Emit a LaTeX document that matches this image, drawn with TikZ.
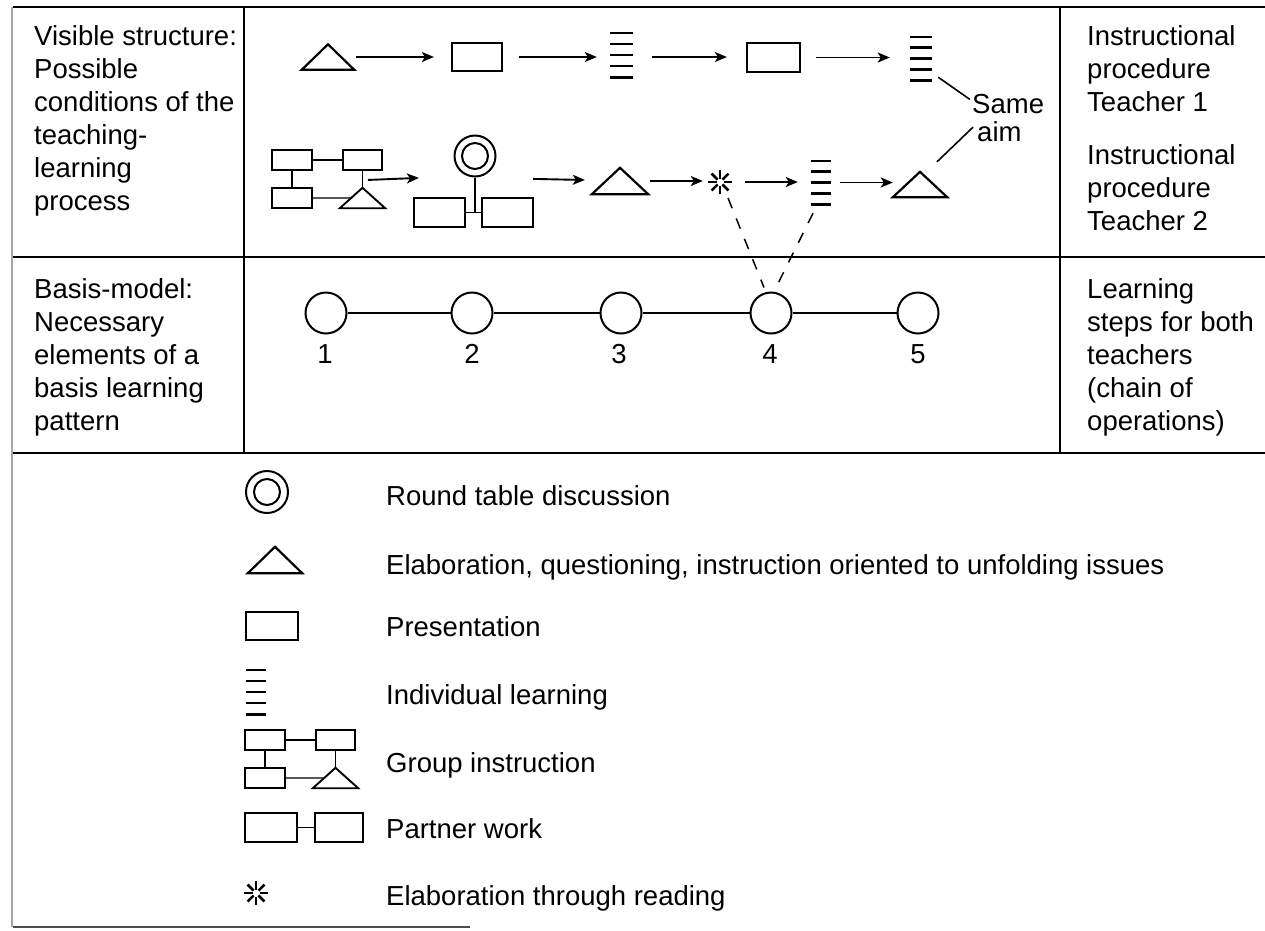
\documentclass[tikz,border=0pt]{standalone}
\usepackage{fontspec}
\setmainfont{Liberation Sans}
\usetikzlibrary{arrows.meta,calc}
\tikzset{
  lbl/.style={font=\fontsize{27.5}{33}\selectfont, inner sep=0pt, align=left, anchor=north west},
  txt/.style={font=\fontsize{27.5}{33}\selectfont, inner sep=0pt, anchor=base west},
  num/.style={font=\fontsize{27.5}{33}\selectfont, inner sep=0pt, anchor=base},
  shp/.style={draw, line width=2.2pt, inner sep=0pt},
  gshp/.style={draw, line width=1.9pt, inner sep=0pt},
  gap/.style={inner sep=0pt, draw=none},
  stepc/.style={draw, circle, line width=2pt, inner sep=0pt, minimum size=41pt},
  arr/.style={line width=1.9pt, -{Stealth[length=12pt,width=10pt,inset=3pt]}},
  thinl/.style={line width=1.3pt},
  rule/.style={line width=2pt},
  stk/.style={line width=2.6pt},
  dsh/.style={line width=1.5pt, dash pattern=on 11pt off 11pt},
}
\newcommand{\drawtri}[1]{\draw[line width=2.2pt, line join=miter] (#1.south west) -- (#1.north) -- (#1.south east) -- cycle;}
\newcommand{\drawstack}[1]{\foreach \f in {0,0.25,0.5,0.75,1} \draw[stk] ($(#1.north west)!\f!(#1.south west)$) -- ($(#1.north east)!\f!(#1.south east)$);}
\newcommand{\drawstar}[1]{\foreach \a in {0,45,...,315} \draw[line width=2.5pt] ($(#1)+(\a:3.5)$) -- ($(#1)+(\a:12)$);}
\begin{document}
\begin{tikzpicture}[x=1pt,y=-1pt]
\useasboundingbox (0,0) rectangle (1265,930);
\fill[white] (0,0) rectangle (1265,930);
% table rules
\draw[rule] (13,7) -- (1265,7);
\draw[rule] (13,257) -- (1265,257);
\draw[rule] (13,453) -- (1265,453);
\draw[rule] (244,7) -- (244,453);
\draw[line width=1.2pt] (1060,7) -- (1060,453);
\draw[line width=2.5pt, black!35] (12,7) -- (12,927);
\draw[line width=2pt, black!70] (13,927) -- (470,927);
% column texts
\node[lbl] (lab1) at (34,25) {Visible structure:\\Possible\\conditions of the\\teaching-\\learning\\process};
\node[lbl] (lab2) at (34,278) {Basis-model:\\Necessary\\elements of a\\basis learning\\pattern};
\node[lbl] (rl1) at (1087,25) {Instructional\\procedure\\Teacher 1\\[20pt]Instructional\\procedure\\Teacher 2};
\node[lbl] (rl2) at (1087,278) {Learning\\steps for both\\teachers\\(chain of\\operations)};
% ---- Teacher 1 row
\node[gap, minimum width=52pt, minimum height=25pt] (tA) at (328,57) {};
\drawtri{tA}
\node[shp, minimum width=50pt, minimum height=28pt] (rA) at (477,57) {};
\node[gap, minimum width=23pt, minimum height=44pt] (sA) at (621.5,55) {};
\drawstack{sA}
\node[shp, minimum width=53pt, minimum height=29pt] (rB) at (773.5,57.5) {};
\node[gap, minimum width=22pt, minimum height=43pt] (sB) at (921,58.5) {};
\drawstack{sB}
\draw[arr] ([xshift=2pt]tA.east) -- ([xshift=-17pt]tA.east -| rA.west);
\draw[arr] ([xshift=16pt]rA.east) -- ([xshift=-13pt]rA.east -| sA.west);
\draw[arr] ([xshift=19pt]sA.east |- rA.east) -- ([xshift=-19pt]rA.east -| rB.west);
\draw[arr] ([xshift=15pt]rB.east) -- ([xshift=-20pt]rB.east -| sB.west);
% Same aim
\node[txt] (same) at (972,113) {Same};
\node[txt] (aim) at (977,141) {aim};
% ---- Teacher 2 row: group instruction
\node[gshp, minimum width=40pt, minimum height=20pt] (gTL) at (292,160) {};
\node[gshp, minimum width=39pt, minimum height=20pt] (gTR) at (362.5,160) {};
\node[gshp, minimum width=40pt, minimum height=20pt] (gBL) at (292,198) {};
\node[gap, minimum width=45pt, minimum height=20pt] (gT) at (362.5,198) {};
\draw[line width=1.9pt] (gT.south west) -- (gT.north) -- (gT.south east) -- cycle;
\draw[thinl] (gTL) -- (gTR);
\draw[thinl] (gTL) -- (gBL);
\draw[thinl] (gTR.south) -- (gT.north);
\draw[thinl] (gBL.east) -- ($(gT.north)!0.5!(gT.south west)$);
% round table + partner work
\node[draw, circle, line width=2pt, inner sep=0pt, minimum size=41pt] (dc) at (475,156) {};
\draw[line width=2pt] (dc.center) circle[radius=13];
\node[shp, minimum width=51pt, minimum height=29pt] (pL) at (439.5,212.5) {};
\node[shp, minimum width=51pt, minimum height=29pt] (pR) at (507.5,212.5) {};
\draw[thinl] (pL) -- (pR);
\draw[thinl] (dc.south) -- (dc.south |- pL.east);
\draw[arr] ([shift={(5.5,9)}]gTR.south) -- ([shift={(6,-19)}]pL.north west);
% rest of row 2
\node[gap, minimum width=56pt, minimum height=26pt] (tB) at (620,181) {};
\drawtri{tB}
\node[gap, minimum size=24pt] (st) at (720,182) {};
\drawstar{st}
\node[gap, minimum width=20pt, minimum height=43pt] (sC) at (821,182.5) {};
\drawstack{sC}
\node[gap, minimum width=54pt, minimum height=25pt] (tC) at (920,184.5) {};
\drawtri{tC}
\draw[arr] ([shift={(-1,-18)}]pR.north east) -- ([shift={(-7,-1)}]tB.west);
\draw[arr] ([xshift=2pt]tB.east) -- ([xshift=-5pt]tB.east -| st.west);
\draw[arr] ([xshift=13pt]st.east) -- ([xshift=-13pt]st.east -| sC.west);
\draw[arr] ([xshift=9pt]sC.east) -- (sC.east -| tC.west);
% same aim connectors
\draw[line width=1.6pt] ([shift={(6,-3)}]sB.south east) -- ([shift={(-2,-4)}]same.west);
\draw[line width=1.6pt] ([shift={(17,-10)}]tC.north) -- ([shift={(-4,-4)}]aim.west);
% ---- basis model
\node[stepc] (c1) at (326,313) {};
\node[stepc] (c2) at (472,313) {};
\node[stepc] (c3) at (621,313) {};
\node[stepc] (c4) at (771,313) {};
\node[stepc] (c5) at (918,313) {};
\draw[line width=1.6pt] (c1) -- (c2);
\draw[line width=1.6pt] (c2) -- (c3);
\draw[line width=1.6pt] (c3) -- (c4);
\draw[line width=1.6pt] (c4) -- (c5);
\node[num] (n1) at (325,363) {1};
\node[num] (n2) at (472,363) {2};
\node[num] (n3) at (619,363) {3};
\node[num] (n4) at (770,363) {4};
\node[num] (n5) at (918,363) {5};
% dashed links to step 4
\draw[dsh] ([shift={(8,16)}]st.center) -- ([shift={(-7,-4)}]c4.north);
\draw[dsh] ([shift={(-8,9)}]sC.south) -- ([shift={(5,-4)}]c4.north);
% ---- legend
\node[draw, circle, line width=2pt, inner sep=0pt, minimum size=42pt] (ldc) at (267,492) {};
\draw[line width=2pt] (ldc.center) circle[radius=13];
\node[txt] (ltx1) at (386,505) {Round table discussion};
\node[gap, minimum width=54pt, minimum height=26pt] (ltri) at (275,560) {};
\drawtri{ltri}
\node[txt] (ltx2) at (386,574) {Elaboration, questioning, instruction oriented to unfolding issues};
\node[shp, minimum width=52pt, minimum height=28pt] (lrect) at (272,626) {};
\node[txt] (ltx3) at (386,636) {Presentation};
\node[gap, minimum width=20pt, minimum height=44pt] (lstk) at (256,692) {};
\drawstack{lstk}
\node[txt] (ltx4) at (386,704) {Individual learning};
\node[gshp, minimum width=40pt, minimum height=20pt] (lgTL) at (265,740) {};
\node[gshp, minimum width=39pt, minimum height=20pt] (lgTR) at (335.5,740) {};
\node[gshp, minimum width=40pt, minimum height=20pt] (lgBL) at (265,778) {};
\node[gap, minimum width=45pt, minimum height=20pt] (lgT) at (335.5,778) {};
\draw[line width=1.9pt] (lgT.south west) -- (lgT.north) -- (lgT.south east) -- cycle;
\draw[thinl] (lgTL) -- (lgTR);
\draw[thinl] (lgTL) -- (lgBL);
\draw[thinl] (lgTR.south) -- (lgT.north);
\draw[thinl] (lgBL.east) -- ($(lgT.north)!0.5!(lgT.south west)$);
\node[txt] (ltx5) at (386,772) {Group instruction};
\node[shp, minimum width=52pt, minimum height=29pt] (lpL) at (271,827.5) {};
\node[shp, minimum width=48pt, minimum height=29pt] (lpR) at (339,827.5) {};
\draw[thinl] (lpL) -- (lpR);
\node[txt] (ltx6) at (386,838) {Partner work};
\node[gap, minimum size=24pt] (lst) at (256,893) {};
\drawstar{lst}
\node[txt] (ltx7) at (386,905) {Elaboration through reading};
\end{tikzpicture}
\end{document}
